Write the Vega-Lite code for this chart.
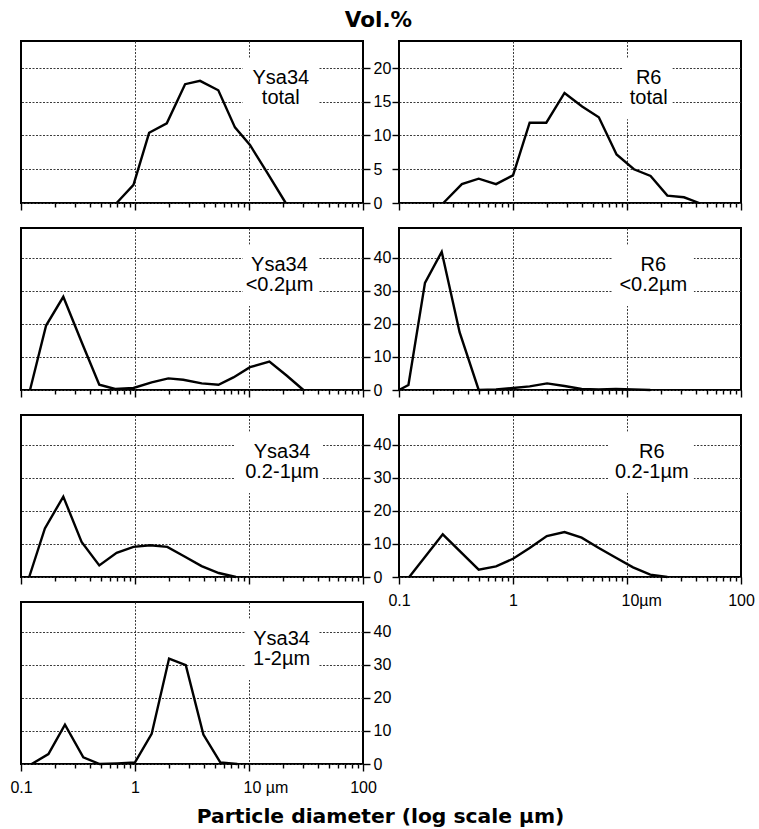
{
  "$schema": "https://vega.github.io/schema/vega-lite/v6.json",
  "padding": {"left": 8, "top": 8, "right": 5, "bottom": 3},
  "background": "white",
  "data": {
    "values": [
      {"sample": "Ysa34", "fraction": "total", "diameter": 0.69, "vol": 0},
      {"sample": "Ysa34", "fraction": "total", "diameter": 0.97, "vol": 2.7},
      {"sample": "Ysa34", "fraction": "total", "diameter": 1.33, "vol": 10.4},
      {"sample": "Ysa34", "fraction": "total", "diameter": 1.9, "vol": 11.8},
      {"sample": "Ysa34", "fraction": "total", "diameter": 2.75, "vol": 17.6},
      {"sample": "Ysa34", "fraction": "total", "diameter": 3.72, "vol": 18.1},
      {"sample": "Ysa34", "fraction": "total", "diameter": 5.38, "vol": 16.7},
      {"sample": "Ysa34", "fraction": "total", "diameter": 7.53, "vol": 11.2},
      {"sample": "Ysa34", "fraction": "total", "diameter": 10.2, "vol": 8.6},
      {"sample": "Ysa34", "fraction": "total", "diameter": 14.3, "vol": 4.6},
      {"sample": "Ysa34", "fraction": "total", "diameter": 21, "vol": 0},

      {"sample": "R6", "fraction": "total", "diameter": 0.245, "vol": 0},
      {"sample": "R6", "fraction": "total", "diameter": 0.356, "vol": 2.8},
      {"sample": "R6", "fraction": "total", "diameter": 0.5, "vol": 3.6},
      {"sample": "R6", "fraction": "total", "diameter": 0.71, "vol": 2.8},
      {"sample": "R6", "fraction": "total", "diameter": 1.0, "vol": 4.1},
      {"sample": "R6", "fraction": "total", "diameter": 1.4, "vol": 11.9},
      {"sample": "R6", "fraction": "total", "diameter": 1.96, "vol": 11.9},
      {"sample": "R6", "fraction": "total", "diameter": 2.83, "vol": 16.3},
      {"sample": "R6", "fraction": "total", "diameter": 4.04, "vol": 14.3},
      {"sample": "R6", "fraction": "total", "diameter": 5.66, "vol": 12.7},
      {"sample": "R6", "fraction": "total", "diameter": 8.1, "vol": 7.2},
      {"sample": "R6", "fraction": "total", "diameter": 11.5, "vol": 5.0},
      {"sample": "R6", "fraction": "total", "diameter": 16.1, "vol": 4.0},
      {"sample": "R6", "fraction": "total", "diameter": 22.6, "vol": 1.1},
      {"sample": "R6", "fraction": "total", "diameter": 31.6, "vol": 0.85},
      {"sample": "R6", "fraction": "total", "diameter": 43, "vol": 0},

      {"sample": "Ysa34", "fraction": "<0.2µm", "diameter": 0.12, "vol": 0},
      {"sample": "Ysa34", "fraction": "<0.2µm", "diameter": 0.166, "vol": 19.5},
      {"sample": "Ysa34", "fraction": "<0.2µm", "diameter": 0.235, "vol": 28.2},
      {"sample": "Ysa34", "fraction": "<0.2µm", "diameter": 0.34, "vol": 14.5},
      {"sample": "Ysa34", "fraction": "<0.2µm", "diameter": 0.486, "vol": 1.6},
      {"sample": "Ysa34", "fraction": "<0.2µm", "diameter": 0.67, "vol": 0.3},
      {"sample": "Ysa34", "fraction": "<0.2µm", "diameter": 0.97, "vol": 0.6},
      {"sample": "Ysa34", "fraction": "<0.2µm", "diameter": 1.4, "vol": 2.3},
      {"sample": "Ysa34", "fraction": "<0.2µm", "diameter": 1.96, "vol": 3.5},
      {"sample": "Ysa34", "fraction": "<0.2µm", "diameter": 2.65, "vol": 3.1},
      {"sample": "Ysa34", "fraction": "<0.2µm", "diameter": 3.85, "vol": 2.0},
      {"sample": "Ysa34", "fraction": "<0.2µm", "diameter": 5.4, "vol": 1.6},
      {"sample": "Ysa34", "fraction": "<0.2µm", "diameter": 7.3, "vol": 3.8},
      {"sample": "Ysa34", "fraction": "<0.2µm", "diameter": 10.2, "vol": 6.9},
      {"sample": "Ysa34", "fraction": "<0.2µm", "diameter": 15.1, "vol": 8.6},
      {"sample": "Ysa34", "fraction": "<0.2µm", "diameter": 21.5, "vol": 4.3},
      {"sample": "Ysa34", "fraction": "<0.2µm", "diameter": 30, "vol": 0},

      {"sample": "R6", "fraction": "<0.2µm", "diameter": 0.1, "vol": 0},
      {"sample": "R6", "fraction": "<0.2µm", "diameter": 0.121, "vol": 1.5},
      {"sample": "R6", "fraction": "<0.2µm", "diameter": 0.169, "vol": 32.4},
      {"sample": "R6", "fraction": "<0.2µm", "diameter": 0.237, "vol": 41.8},
      {"sample": "R6", "fraction": "<0.2µm", "diameter": 0.34, "vol": 17.5},
      {"sample": "R6", "fraction": "<0.2µm", "diameter": 0.5, "vol": 0},
      {"sample": "R6", "fraction": "<0.2µm", "diameter": 0.71, "vol": 0.2},
      {"sample": "R6", "fraction": "<0.2µm", "diameter": 1.0, "vol": 0.6},
      {"sample": "R6", "fraction": "<0.2µm", "diameter": 1.4, "vol": 1.1},
      {"sample": "R6", "fraction": "<0.2µm", "diameter": 1.99, "vol": 2.0},
      {"sample": "R6", "fraction": "<0.2µm", "diameter": 2.83, "vol": 1.2},
      {"sample": "R6", "fraction": "<0.2µm", "diameter": 4.0, "vol": 0.3},
      {"sample": "R6", "fraction": "<0.2µm", "diameter": 5.66, "vol": 0.2},
      {"sample": "R6", "fraction": "<0.2µm", "diameter": 8.0, "vol": 0.3},
      {"sample": "R6", "fraction": "<0.2µm", "diameter": 11.3, "vol": 0.2},
      {"sample": "R6", "fraction": "<0.2µm", "diameter": 16, "vol": 0},

      {"sample": "Ysa34", "fraction": "0.2-1µm", "diameter": 0.118, "vol": 0},
      {"sample": "Ysa34", "fraction": "0.2-1µm", "diameter": 0.162, "vol": 14.7},
      {"sample": "Ysa34", "fraction": "0.2-1µm", "diameter": 0.235, "vol": 24.3},
      {"sample": "Ysa34", "fraction": "0.2-1µm", "diameter": 0.34, "vol": 10.6},
      {"sample": "Ysa34", "fraction": "0.2-1µm", "diameter": 0.486, "vol": 3.5},
      {"sample": "Ysa34", "fraction": "0.2-1µm", "diameter": 0.69, "vol": 7.3},
      {"sample": "Ysa34", "fraction": "0.2-1µm", "diameter": 0.97, "vol": 9.1},
      {"sample": "Ysa34", "fraction": "0.2-1µm", "diameter": 1.36, "vol": 9.6},
      {"sample": "Ysa34", "fraction": "0.2-1µm", "diameter": 1.92, "vol": 9.1},
      {"sample": "Ysa34", "fraction": "0.2-1µm", "diameter": 2.72, "vol": 6.2},
      {"sample": "Ysa34", "fraction": "0.2-1µm", "diameter": 3.84, "vol": 3.3},
      {"sample": "Ysa34", "fraction": "0.2-1µm", "diameter": 5.43, "vol": 1.2},
      {"sample": "Ysa34", "fraction": "0.2-1µm", "diameter": 7.68, "vol": 0},

      {"sample": "R6", "fraction": "0.2-1µm", "diameter": 0.123, "vol": 0},
      {"sample": "R6", "fraction": "0.2-1µm", "diameter": 0.242, "vol": 12.9},
      {"sample": "R6", "fraction": "0.2-1µm", "diameter": 0.5, "vol": 2.2},
      {"sample": "R6", "fraction": "0.2-1µm", "diameter": 0.71, "vol": 3.2},
      {"sample": "R6", "fraction": "0.2-1µm", "diameter": 1.0, "vol": 5.5},
      {"sample": "R6", "fraction": "0.2-1µm", "diameter": 1.4, "vol": 8.8},
      {"sample": "R6", "fraction": "0.2-1µm", "diameter": 1.98, "vol": 12.4},
      {"sample": "R6", "fraction": "0.2-1µm", "diameter": 2.83, "vol": 13.6},
      {"sample": "R6", "fraction": "0.2-1µm", "diameter": 4.0, "vol": 11.9},
      {"sample": "R6", "fraction": "0.2-1µm", "diameter": 5.66, "vol": 8.8},
      {"sample": "R6", "fraction": "0.2-1µm", "diameter": 8.0, "vol": 5.8},
      {"sample": "R6", "fraction": "0.2-1µm", "diameter": 11.3, "vol": 2.9},
      {"sample": "R6", "fraction": "0.2-1µm", "diameter": 16, "vol": 0.7},
      {"sample": "R6", "fraction": "0.2-1µm", "diameter": 22.6, "vol": 0},

      {"sample": "Ysa34", "fraction": "1-2µm", "diameter": 0.124, "vol": 0},
      {"sample": "Ysa34", "fraction": "1-2µm", "diameter": 0.174, "vol": 3.0},
      {"sample": "Ysa34", "fraction": "1-2µm", "diameter": 0.243, "vol": 11.9},
      {"sample": "Ysa34", "fraction": "1-2µm", "diameter": 0.352, "vol": 2.0},
      {"sample": "Ysa34", "fraction": "1-2µm", "diameter": 0.49, "vol": 0},
      {"sample": "Ysa34", "fraction": "1-2µm", "diameter": 0.7, "vol": 0.2},
      {"sample": "Ysa34", "fraction": "1-2µm", "diameter": 1.0, "vol": 0.5},
      {"sample": "Ysa34", "fraction": "1-2µm", "diameter": 1.4, "vol": 9.1},
      {"sample": "Ysa34", "fraction": "1-2µm", "diameter": 1.99, "vol": 31.9},
      {"sample": "Ysa34", "fraction": "1-2µm", "diameter": 2.79, "vol": 29.9},
      {"sample": "Ysa34", "fraction": "1-2µm", "diameter": 3.98, "vol": 8.9},
      {"sample": "Ysa34", "fraction": "1-2µm", "diameter": 5.6, "vol": 0.5},
      {"sample": "Ysa34", "fraction": "1-2µm", "diameter": 7.9, "vol": 0}
    ]
  },
  "columns": 2,
  "bounds": "flush",
  "spacing": {"row": 25, "column": 36},
  "concat": [
    {
      "width": 342, "height": 162,
      "transform": [{"filter": "datum.sample === 'Ysa34' && datum.fraction === 'total'"}],
      "layer": [
        {
          "mark": {"type": "line", "color": "black", "strokeWidth": 2.4},
          "encoding": {
            "x": {"field": "diameter", "type": "quantitative", "scale": {"type": "log", "domain": [0.1, 100], "nice": false},
              "axis": {"title": null, "labels": false, "values": [0.1,0.2,0.3,0.4,0.5,0.6,0.7,0.8,0.9,1,2,3,4,5,6,7,8,9,10,20,30,40,50,60,70,80,90,100],
                "gridOpacity": {"condition": {"test": "datum.value === 1 || datum.value === 10", "value": 1}, "value": 0},
                "tickSize": {"condition": {"test": "datum.value === 0.1 || datum.value === 1 || datum.value === 10 || datum.value === 100", "value": 7}, "value": 4}}},
            "y": {"field": "vol", "type": "quantitative", "scale": {"domain": [0, 24], "nice": false},
              "axis": {"orient": "right", "values": [0, 5, 10, 15, 20], "tickSize": 7, "labelPadding": 3,
                "title": "Vol.%", "titleAngle": 0, "titleX": 15, "titleY": -15, "titleAlign": "center", "titleBaseline": "alphabetic",
                "titleFont": "DejaVu Sans", "titleFontSize": 21.5, "titleFontWeight": "bold"}}
          }
        },
        {
          "transform": [{"aggregate": [{"op": "count", "as": "n"}], "groupby": ["sample", "fraction"]}],
          "mark": {"type": "rect", "fill": "white"},
          "encoding": {"x": {"datum": 8.85, "axis": {"title": null}}, "x2": {"datum": 41}, "y": {"datum": 21.5, "axis": {"title": "Vol.%"}}, "y2": {"datum": 12.4}}
        },
        {
          "transform": [{"aggregate": [{"op": "count", "as": "n"}], "groupby": ["sample", "fraction"]}],
          "mark": {"type": "text", "font": "Liberation Sans", "fontSize": 20, "align": "center", "baseline": "alphabetic", "color": "black"},
          "encoding": {"x": {"datum": 19, "axis": {"title": null}}, "y": {"datum": 17.7, "axis": {"title": "Vol.%"}}, "text": {"field": "sample"}}
        },
        {
          "transform": [{"aggregate": [{"op": "count", "as": "n"}], "groupby": ["sample", "fraction"]}],
          "mark": {"type": "text", "font": "Liberation Sans", "fontSize": 20, "align": "center", "baseline": "alphabetic", "color": "black"},
          "encoding": {"x": {"datum": 19, "axis": {"title": null}}, "y": {"datum": 14.6, "axis": {"title": "Vol.%"}}, "text": {"field": "fraction"}}
        }
      ]
    },
    {
      "width": 342, "height": 162,
      "transform": [{"filter": "datum.sample === 'R6' && datum.fraction === 'total'"}],
      "layer": [
        {
          "mark": {"type": "line", "color": "black", "strokeWidth": 2.4},
          "encoding": {
            "x": {"field": "diameter", "type": "quantitative", "scale": {"type": "log", "domain": [0.1, 100], "nice": false},
              "axis": {"title": null, "labels": false, "values": [0.1,0.2,0.3,0.4,0.5,0.6,0.7,0.8,0.9,1,2,3,4,5,6,7,8,9,10,20,30,40,50,60,70,80,90,100],
                "gridOpacity": {"condition": {"test": "datum.value === 1 || datum.value === 10", "value": 1}, "value": 0},
                "tickSize": {"condition": {"test": "datum.value === 0.1 || datum.value === 1 || datum.value === 10 || datum.value === 100", "value": 7}, "value": 4}}},
            "y": {"field": "vol", "type": "quantitative", "scale": {"domain": [0, 24], "nice": false},
              "axis": {"orient": "left", "values": [0, 5, 10, 15, 20], "tickSize": 7, "labels": false, "title": null}}
          }
        },
        {
          "transform": [{"aggregate": [{"op": "count", "as": "n"}], "groupby": ["sample", "fraction"]}],
          "mark": {"type": "rect", "fill": "white"},
          "encoding": {"x": {"datum": 9.2, "axis": {"title": null}}, "x2": {"datum": 25}, "y": {"datum": 21.5, "axis": {"title": null}}, "y2": {"datum": 12.4}}
        },
        {
          "transform": [{"aggregate": [{"op": "count", "as": "n"}], "groupby": ["sample", "fraction"]}],
          "mark": {"type": "text", "font": "Liberation Sans", "fontSize": 20, "align": "center", "baseline": "alphabetic", "color": "black"},
          "encoding": {"x": {"datum": 15.5, "axis": {"title": null}}, "y": {"datum": 17.7, "axis": {"title": null}}, "text": {"field": "sample"}}
        },
        {
          "transform": [{"aggregate": [{"op": "count", "as": "n"}], "groupby": ["sample", "fraction"]}],
          "mark": {"type": "text", "font": "Liberation Sans", "fontSize": 20, "align": "center", "baseline": "alphabetic", "color": "black"},
          "encoding": {"x": {"datum": 15.5, "axis": {"title": null}}, "y": {"datum": 14.6, "axis": {"title": null}}, "text": {"field": "fraction"}}
        }
      ]
    },
    {
      "width": 342, "height": 162,
      "transform": [{"filter": "datum.sample === 'Ysa34' && datum.fraction === '<0.2µm'"}],
      "layer": [
        {
          "mark": {"type": "line", "color": "black", "strokeWidth": 2.4},
          "encoding": {
            "x": {"field": "diameter", "type": "quantitative", "scale": {"type": "log", "domain": [0.1, 100], "nice": false},
              "axis": {"title": null, "labels": false, "values": [0.1,0.2,0.3,0.4,0.5,0.6,0.7,0.8,0.9,1,2,3,4,5,6,7,8,9,10,20,30,40,50,60,70,80,90,100],
                "gridOpacity": {"condition": {"test": "datum.value === 1 || datum.value === 10", "value": 1}, "value": 0},
                "tickSize": {"condition": {"test": "datum.value === 0.1 || datum.value === 1 || datum.value === 10 || datum.value === 100", "value": 7}, "value": 4}}},
            "y": {"field": "vol", "type": "quantitative", "scale": {"domain": [0, 49], "nice": false},
              "axis": {"orient": "right", "values": [0, 10, 20, 30, 40], "tickSize": 7, "labelPadding": 3, "title": null}}
          }
        },
        {
          "transform": [{"aggregate": [{"op": "count", "as": "n"}], "groupby": ["sample", "fraction"]}],
          "mark": {"type": "rect", "fill": "white"},
          "encoding": {"x": {"datum": 8.85, "axis": {"title": null}}, "x2": {"datum": 41}, "y": {"datum": 43.9, "axis": {"title": null}}, "y2": {"datum": 25.4}}
        },
        {
          "transform": [{"aggregate": [{"op": "count", "as": "n"}], "groupby": ["sample", "fraction"]}],
          "mark": {"type": "text", "font": "Liberation Sans", "fontSize": 20, "align": "center", "baseline": "alphabetic", "color": "black"},
          "encoding": {"x": {"datum": 18.5, "axis": {"title": null}}, "y": {"datum": 36.1, "axis": {"title": null}}, "text": {"field": "sample"}}
        },
        {
          "transform": [{"aggregate": [{"op": "count", "as": "n"}], "groupby": ["sample", "fraction"]}],
          "mark": {"type": "text", "font": "Liberation Sans", "fontSize": 20, "align": "center", "baseline": "alphabetic", "color": "black"},
          "encoding": {"x": {"datum": 18.5, "axis": {"title": null}}, "y": {"datum": 29.8, "axis": {"title": null}}, "text": {"field": "fraction"}}
        }
      ]
    },
    {
      "width": 342, "height": 162,
      "transform": [{"filter": "datum.sample === 'R6' && datum.fraction === '<0.2µm'"}],
      "layer": [
        {
          "mark": {"type": "line", "color": "black", "strokeWidth": 2.4},
          "encoding": {
            "x": {"field": "diameter", "type": "quantitative", "scale": {"type": "log", "domain": [0.1, 100], "nice": false},
              "axis": {"title": null, "labels": false, "values": [0.1,0.2,0.3,0.4,0.5,0.6,0.7,0.8,0.9,1,2,3,4,5,6,7,8,9,10,20,30,40,50,60,70,80,90,100],
                "gridOpacity": {"condition": {"test": "datum.value === 1 || datum.value === 10", "value": 1}, "value": 0},
                "tickSize": {"condition": {"test": "datum.value === 0.1 || datum.value === 1 || datum.value === 10 || datum.value === 100", "value": 7}, "value": 4}}},
            "y": {"field": "vol", "type": "quantitative", "scale": {"domain": [0, 49], "nice": false},
              "axis": {"orient": "left", "values": [0, 10, 20, 30, 40], "tickSize": 7, "labels": false, "title": null}}
          }
        },
        {
          "transform": [{"aggregate": [{"op": "count", "as": "n"}], "groupby": ["sample", "fraction"]}],
          "mark": {"type": "rect", "fill": "white"},
          "encoding": {"x": {"datum": 7.5, "axis": {"title": null}}, "x2": {"datum": 38.6}, "y": {"datum": 43.9, "axis": {"title": null}}, "y2": {"datum": 25.4}}
        },
        {
          "transform": [{"aggregate": [{"op": "count", "as": "n"}], "groupby": ["sample", "fraction"]}],
          "mark": {"type": "text", "font": "Liberation Sans", "fontSize": 20, "align": "center", "baseline": "alphabetic", "color": "black"},
          "encoding": {"x": {"datum": 17, "axis": {"title": null}}, "y": {"datum": 36.1, "axis": {"title": null}}, "text": {"field": "sample"}}
        },
        {
          "transform": [{"aggregate": [{"op": "count", "as": "n"}], "groupby": ["sample", "fraction"]}],
          "mark": {"type": "text", "font": "Liberation Sans", "fontSize": 20, "align": "center", "baseline": "alphabetic", "color": "black"},
          "encoding": {"x": {"datum": 17, "axis": {"title": null}}, "y": {"datum": 29.8, "axis": {"title": null}}, "text": {"field": "fraction"}}
        }
      ]
    },
    {
      "width": 342, "height": 162,
      "transform": [{"filter": "datum.sample === 'Ysa34' && datum.fraction === '0.2-1µm'"}],
      "layer": [
        {
          "mark": {"type": "line", "color": "black", "strokeWidth": 2.4},
          "encoding": {
            "x": {"field": "diameter", "type": "quantitative", "scale": {"type": "log", "domain": [0.1, 100], "nice": false},
              "axis": {"title": null, "labels": false, "values": [0.1,0.2,0.3,0.4,0.5,0.6,0.7,0.8,0.9,1,2,3,4,5,6,7,8,9,10,20,30,40,50,60,70,80,90,100],
                "gridOpacity": {"condition": {"test": "datum.value === 1 || datum.value === 10", "value": 1}, "value": 0},
                "tickSize": {"condition": {"test": "datum.value === 0.1 || datum.value === 1 || datum.value === 10 || datum.value === 100", "value": 7}, "value": 4}}},
            "y": {"field": "vol", "type": "quantitative", "scale": {"domain": [0, 49], "nice": false},
              "axis": {"orient": "right", "values": [0, 10, 20, 30, 40], "tickSize": 7, "labelPadding": 3, "title": null}}
          }
        },
        {
          "transform": [{"aggregate": [{"op": "count", "as": "n"}], "groupby": ["sample", "fraction"]}],
          "mark": {"type": "rect", "fill": "white"},
          "encoding": {"x": {"datum": 7.5, "axis": {"title": null}}, "x2": {"datum": 44.6}, "y": {"datum": 43.9, "axis": {"title": null}}, "y2": {"datum": 25.4}}
        },
        {
          "transform": [{"aggregate": [{"op": "count", "as": "n"}], "groupby": ["sample", "fraction"]}],
          "mark": {"type": "text", "font": "Liberation Sans", "fontSize": 20, "align": "center", "baseline": "alphabetic", "color": "black"},
          "encoding": {"x": {"datum": 19.5, "axis": {"title": null}}, "y": {"datum": 36.1, "axis": {"title": null}}, "text": {"field": "sample"}}
        },
        {
          "transform": [{"aggregate": [{"op": "count", "as": "n"}], "groupby": ["sample", "fraction"]}],
          "mark": {"type": "text", "font": "Liberation Sans", "fontSize": 20, "align": "center", "baseline": "alphabetic", "color": "black"},
          "encoding": {"x": {"datum": 19.5, "axis": {"title": null}}, "y": {"datum": 29.8, "axis": {"title": null}}, "text": {"field": "fraction"}}
        }
      ]
    },
    {
      "width": 342, "height": 162,
      "transform": [{"filter": "datum.sample === 'R6' && datum.fraction === '0.2-1µm'"}],
      "layer": [
        {
          "mark": {"type": "line", "color": "black", "strokeWidth": 2.4},
          "encoding": {
            "x": {"field": "diameter", "type": "quantitative", "scale": {"type": "log", "domain": [0.1, 100], "nice": false},
              "axis": {"title": null, "values": [0.1,0.2,0.3,0.4,0.5,0.6,0.7,0.8,0.9,1,2,3,4,5,6,7,8,9,10,20,30,40,50,60,70,80,90,100],
                "labelExpr": "datum.value === 0.1 ? '0.1' : datum.value === 1 ? '1' : datum.value === 10 ? '10µm' : datum.value === 100 ? '100' : ''",
                "labelAlign": {"condition": {"test": "datum.value === 10", "value": "left"}, "value": "center"},
                "labelOffset": {"condition": {"test": "datum.value === 10", "value": -6}, "value": 0},
                "labelPadding": 8,
                "gridOpacity": {"condition": {"test": "datum.value === 1 || datum.value === 10", "value": 1}, "value": 0},
                "tickSize": {"condition": {"test": "datum.value === 0.1 || datum.value === 1 || datum.value === 10 || datum.value === 100", "value": 7}, "value": 4}}},
            "y": {"field": "vol", "type": "quantitative", "scale": {"domain": [0, 49], "nice": false},
              "axis": {"orient": "left", "values": [0, 10, 20, 30, 40], "tickSize": 7, "labels": false, "title": null}}
          }
        },
        {
          "transform": [{"aggregate": [{"op": "count", "as": "n"}], "groupby": ["sample", "fraction"]}],
          "mark": {"type": "rect", "fill": "white"},
          "encoding": {"x": {"datum": 6.9, "axis": {"title": null}}, "x2": {"datum": 38.6}, "y": {"datum": 43.9, "axis": {"title": null}}, "y2": {"datum": 25.4}}
        },
        {
          "transform": [{"aggregate": [{"op": "count", "as": "n"}], "groupby": ["sample", "fraction"]}],
          "mark": {"type": "text", "font": "Liberation Sans", "fontSize": 20, "align": "center", "baseline": "alphabetic", "color": "black"},
          "encoding": {"x": {"datum": 16.5, "axis": {"title": null}}, "y": {"datum": 36.1, "axis": {"title": null}}, "text": {"field": "sample"}}
        },
        {
          "transform": [{"aggregate": [{"op": "count", "as": "n"}], "groupby": ["sample", "fraction"]}],
          "mark": {"type": "text", "font": "Liberation Sans", "fontSize": 20, "align": "center", "baseline": "alphabetic", "color": "black"},
          "encoding": {"x": {"datum": 16.5, "axis": {"title": null}}, "y": {"datum": 29.8, "axis": {"title": null}}, "text": {"field": "fraction"}}
        }
      ]
    },
    {
      "width": 342, "height": 162,
      "transform": [{"filter": "datum.sample === 'Ysa34' && datum.fraction === '1-2µm'"}],
      "layer": [
        {
          "mark": {"type": "line", "color": "black", "strokeWidth": 2.4},
          "encoding": {
            "x": {"field": "diameter", "type": "quantitative", "scale": {"type": "log", "domain": [0.1, 100], "nice": false},
              "axis": {"values": [0.1,0.2,0.3,0.4,0.5,0.6,0.7,0.8,0.9,1,2,3,4,5,6,7,8,9,10,20,30,40,50,60,70,80,90,100],
                "labelExpr": "datum.value === 0.1 ? '0.1' : datum.value === 1 ? '1' : datum.value === 10 ? '10 µm' : datum.value === 100 ? '100' : ''",
                "labelAlign": {"condition": {"test": "datum.value === 10", "value": "left"}, "value": "center"},
                "labelOffset": {"condition": {"test": "datum.value === 10", "value": -6}, "value": 0},
                "labelPadding": 8,
                "gridOpacity": {"condition": {"test": "datum.value === 1 || datum.value === 10", "value": 1}, "value": 0},
                "tickSize": {"condition": {"test": "datum.value === 0.1 || datum.value === 1 || datum.value === 10 || datum.value === 100", "value": 7}, "value": 4},
                "title": "Particle diameter (log scale µm)", "titleX": 359, "titleY": 58, "titleAlign": "center", "titleBaseline": "alphabetic",
                "titleFont": "DejaVu Sans", "titleFontSize": 20.3, "titleFontWeight": "bold"}},
            "y": {"field": "vol", "type": "quantitative", "scale": {"domain": [0, 49], "nice": false},
              "axis": {"orient": "right", "values": [0, 10, 20, 30, 40], "tickSize": 7, "labelPadding": 3, "title": null}}
          }
        },
        {
          "transform": [{"aggregate": [{"op": "count", "as": "n"}], "groupby": ["sample", "fraction"]}],
          "mark": {"type": "rect", "fill": "white"},
          "encoding": {"x": {"datum": 9.2, "axis": {"title": "Particle diameter (log scale µm)"}}, "x2": {"datum": 41}, "y": {"datum": 43.9, "axis": {"title": null}}, "y2": {"datum": 25.4}}
        },
        {
          "transform": [{"aggregate": [{"op": "count", "as": "n"}], "groupby": ["sample", "fraction"]}],
          "mark": {"type": "text", "font": "Liberation Sans", "fontSize": 20, "align": "center", "baseline": "alphabetic", "color": "black"},
          "encoding": {"x": {"datum": 19.3, "axis": {"title": "Particle diameter (log scale µm)"}}, "y": {"datum": 36.1, "axis": {"title": null}}, "text": {"field": "sample"}}
        },
        {
          "transform": [{"aggregate": [{"op": "count", "as": "n"}], "groupby": ["sample", "fraction"]}],
          "mark": {"type": "text", "font": "Liberation Sans", "fontSize": 20, "align": "center", "baseline": "alphabetic", "color": "black"},
          "encoding": {"x": {"datum": 19.3, "axis": {"title": "Particle diameter (log scale µm)"}}, "y": {"datum": 29.8, "axis": {"title": null}}, "text": {"field": "fraction"}}
        }
      ]
    }
  ],
  "config": {
    "view": {"stroke": "black", "strokeWidth": 2},
    "axis": {
      "domain": false,
      "grid": true,
      "gridColor": "#3a3a3a",
      "gridDash": [2, 1.5],
      "gridWidth": 1,
      "tickColor": "black",
      "tickWidth": 1.4,
      "labelFont": "Liberation Sans",
      "labelFontSize": 16,
      "labelColor": "black",
      "labelFlush": false,
      "labelOverlap": false,
      "titleColor": "black"
    }
  }
}
